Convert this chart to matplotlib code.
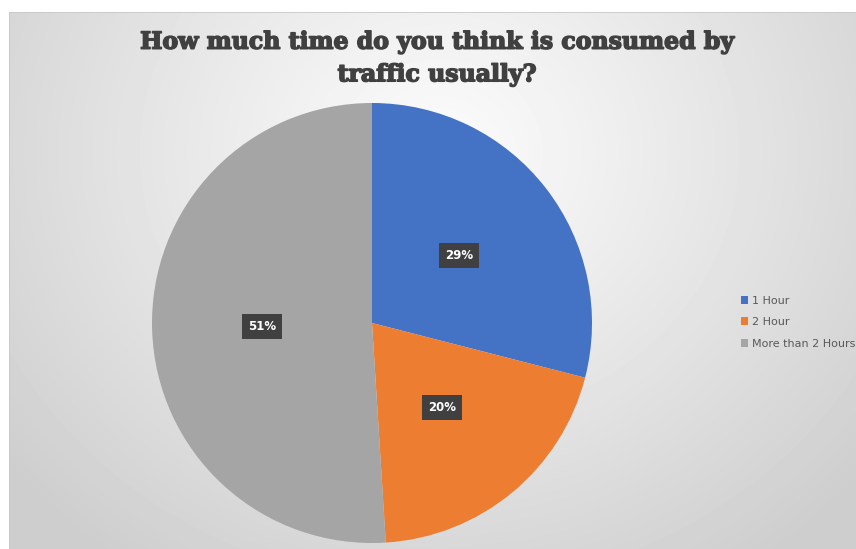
import numpy as np
import matplotlib.pyplot as plt
import matplotlib.patheffects as pe
from matplotlib.patches import Rectangle

categories = ["1 Hour", "2 Hour", "More than 2 Hours"]
shares = [29, 20, 51]
colors = ["#4472C4", "#ED7D31", "#A5A5A5"]
title = "How much time do you think is consumed by\ntraffic usually?"

W, H = 856, 549
fig = plt.figure(figsize=(W / 100, H / 100), dpi=100)
fig.patch.set_facecolor("white")

# chart area with radial gradient background
bg = fig.add_axes([9 / W, 0, 1 - 9 / W, 1 - 12 / H])
bg.set_axis_off()
yy, xx = np.mgrid[0:537, 0:847]
cx, cy = 430, 140
d = np.sqrt(((xx - cx) / 1.0) ** 2 + ((yy - cy) / 0.9) ** 2)
d = np.clip(d / 560, 0, 1)
val = 0.985 - 0.18 * d ** 1.1
bg.imshow(val, cmap="gray", vmin=0, vmax=1, aspect="auto",
          extent=[0, 1, 0, 1], origin="upper", interpolation="bilinear")
bg.plot([0, 0, 1], [0, 1, 1], transform=bg.transAxes, color="#c8c8c8", lw=1.2)

# pie
r_px = 220
cxp, cyp = 372, 323
ax = fig.add_axes([(cxp - r_px) / W, (H - cyp - r_px) / H, 2 * r_px / W, 2 * r_px / H])
wedges, _ = ax.pie(shares, colors=colors, startangle=90, counterclock=False,
                   radius=1.0, wedgeprops=dict(linewidth=0))
ax.set_xlim(-1, 1)
ax.set_ylim(-1, 1)
ax.set_aspect("equal")
ax.set_axis_off()

# percentage labels in dark boxes
start = 90.0
for share, w in zip(shares, wedges):
    mid = np.deg2rad(start - share * 3.6 / 2)
    start -= share * 3.6
    rr = 0.5
    ax.text(rr * np.cos(mid), rr * np.sin(mid), f"{share}%", ha="center", va="center",
            color="white", fontsize=8.5, fontweight="bold", family="DejaVu Sans",
            bbox=dict(boxstyle="square,pad=0.5", facecolor="#404040", edgecolor="none"))

# title
fig.text(437 / W, 1 - 58 / H, title, ha="center", va="center", fontsize=17,
         fontweight="heavy", family="DejaVu Serif", color="#404040", linespacing=1.45,
         path_effects=[pe.withStroke(linewidth=1.1, foreground="#404040")])

# legend
leg = fig.legend(handles=wedges, labels=categories, loc="upper left",
                 bbox_to_anchor=(735 / W, 1 - 290 / H), frameon=False,
                 fontsize=8, handlelength=0.7, handleheight=0.7,
                 handletextpad=0.3, labelspacing=1.05, borderpad=0)
for t in leg.get_texts():
    t.set_color("#595959")

fig.savefig("out.png", dpi=100, facecolor=fig.get_facecolor())
